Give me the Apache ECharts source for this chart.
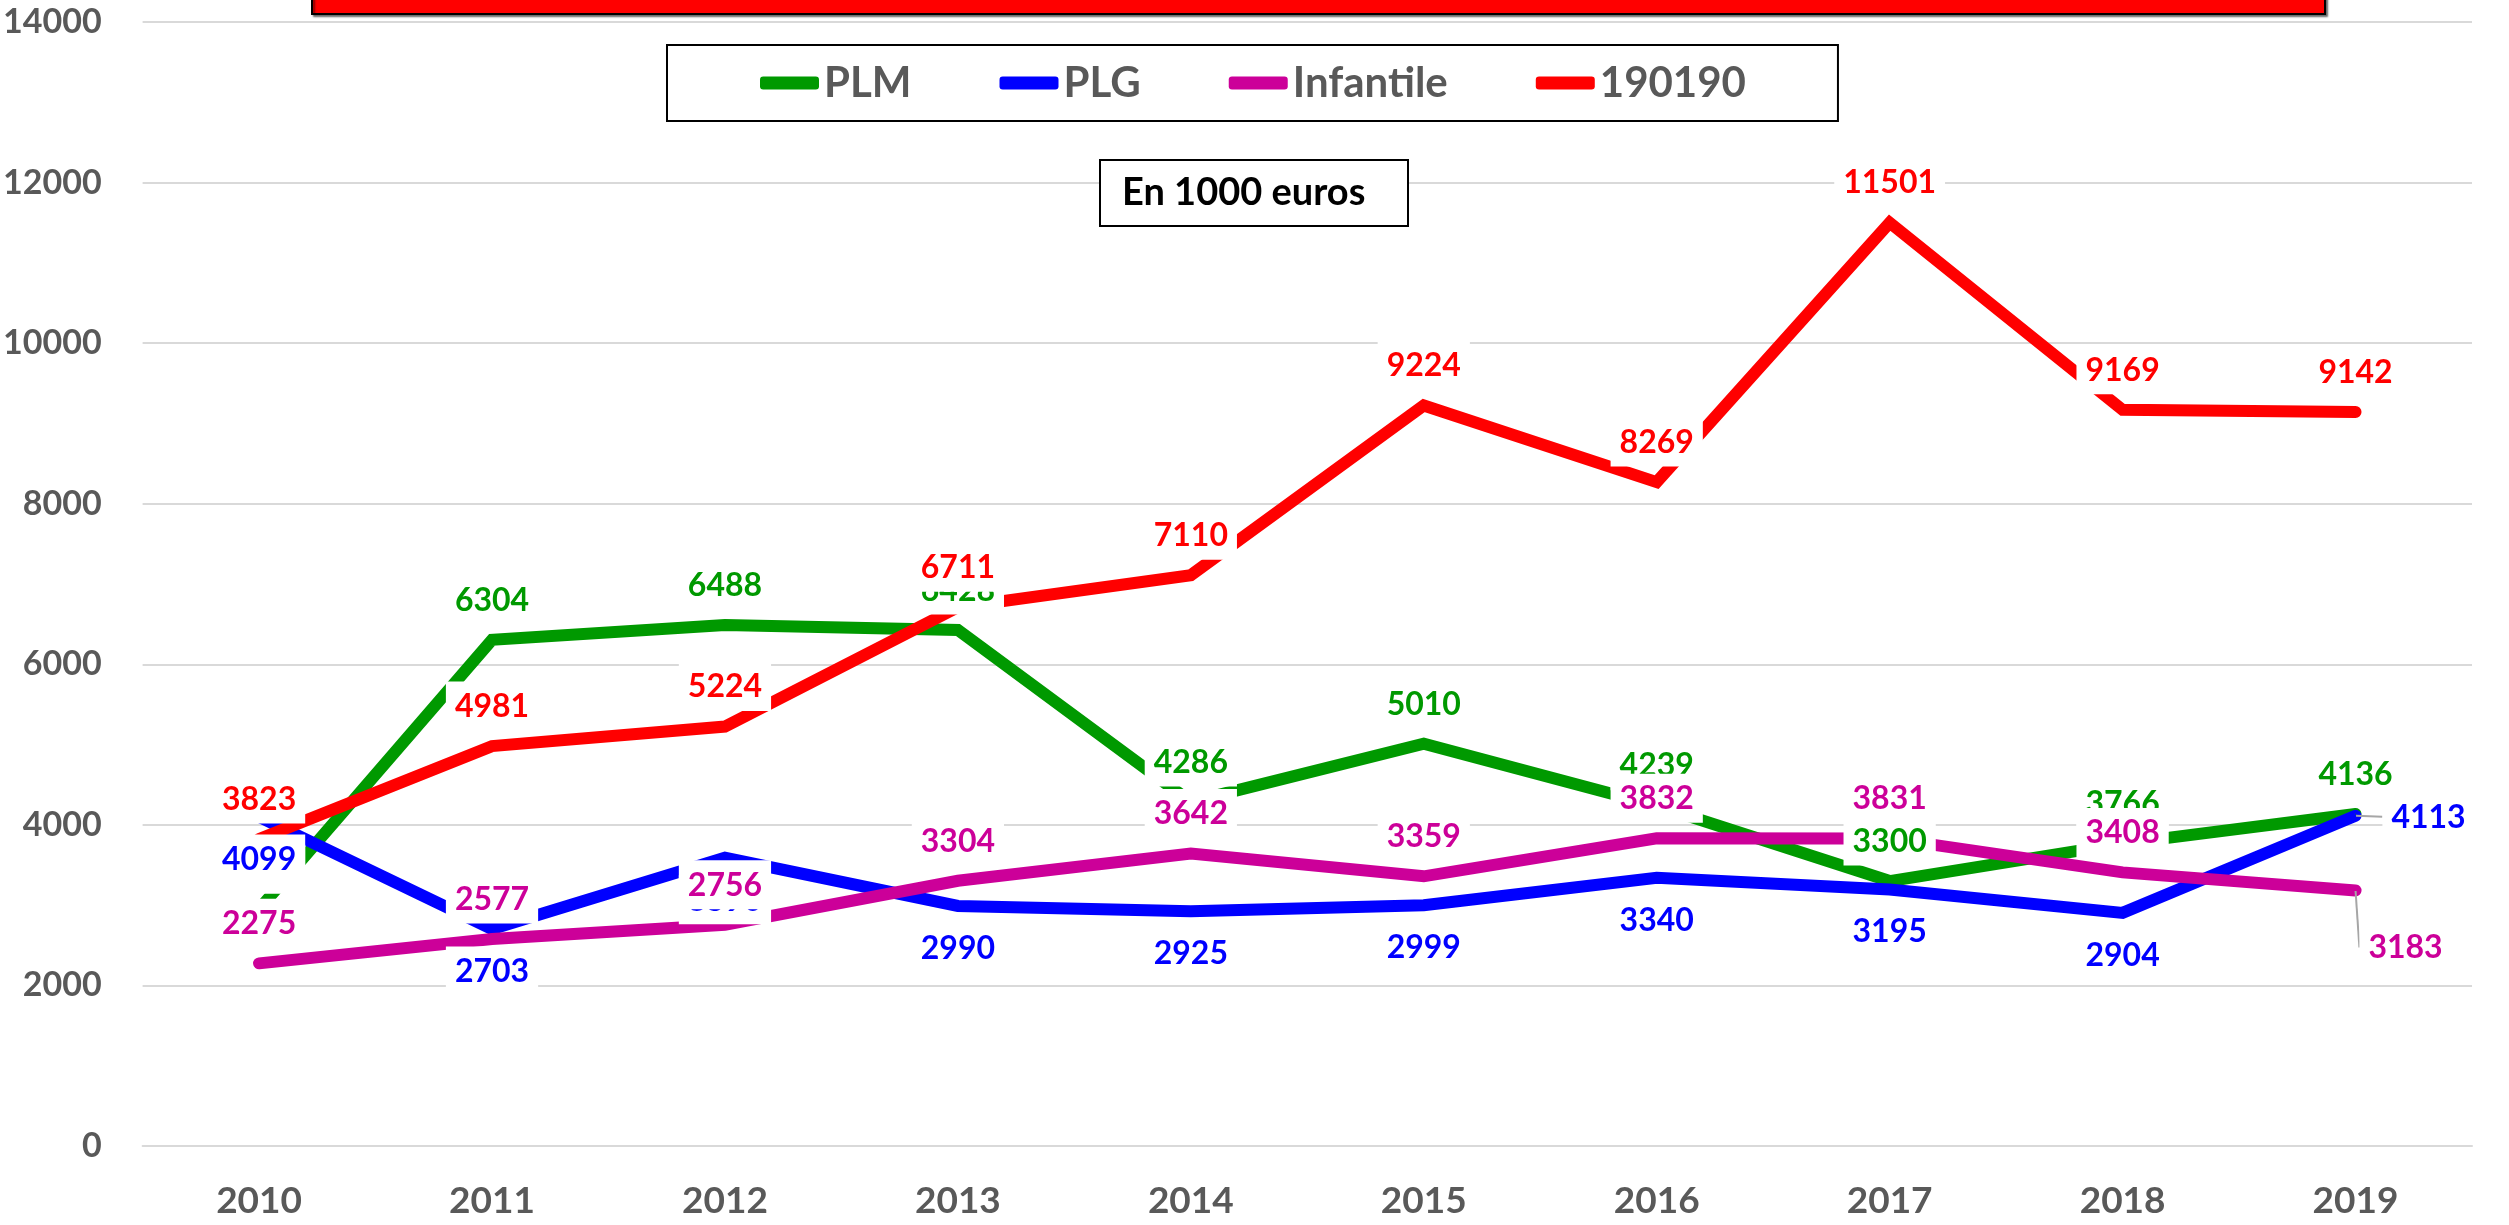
<!DOCTYPE html>
<html>
<head>
<meta charset="utf-8">
<script src="https://cdn.jsdelivr.net/npm/echarts@6/dist/echarts.min.js"></script>
<style>
	html, body { margin: 0; padding: 0; background: #fff; }
	#chartLineBox { width: 2509px; height: 1225px; }
</style>
</head>
<body>
<div id="chartLineBox"></div>
<script>
	// données (en 1000 euros)
	var annees = ['2010', '2011', '2012', '2013', '2014', '2015', '2016', '2017', '2018', '2019'];
	var plm = [2950, 6304, 6488, 6428, 4286, 5010, 4239, 3300, 3766, 4136];
	var plg = [4099, 2703, 3590, 2990, 2925, 2999, 3340, 3195, 2904, 4113];
	var infantile = [2275, 2577, 2756, 3304, 3642, 3359, 3832, 3831, 3408, 3183];
	var s190190 = [3823, 4981, 5224, 6711, 7110, 9224, 8269, 11501, 9169, 9142];
	var noms = ['PLM', 'PLG', 'Infantile', '190190'];
	var couleurs = ['#009900', '#0000ff', '#cc0099', '#ff0000'];

	var police = 'Lato, "Open Sans", sans-serif';
	var chartLine = echarts.init(document.getElementById('chartLineBox'));

	// ligne épaisse
	function serieLigne(i, valeurs) {
		return {
			name: noms[i],
			type: 'line',
			data: valeurs,
			symbol: 'none',
			z: 2,
			lineStyle: { color: couleurs[i], width: 12, cap: 'round', join: 'miter' },
			itemStyle: { color: couleurs[i] },
			emphasis: { disabled: true }
		};
	}

	// étiquettes au-dessus de toutes les lignes
	function serieEtiquettes(i, valeurs, position, decalage) {
		var dernier = valeurs.length - 1;
		return {
			type: 'line',
			data: valeurs.map(function (v, k) {
				return k === dernier && decalage ? { value: v, labelLine: { show: true } } : v;
			}),
			symbol: 'circle',
			symbolSize: 1,
			z: 3,
			lineStyle: { opacity: 0, width: 0 },
			itemStyle: { color: couleurs[i] },
			emphasis: { disabled: true },
			label: {
				show: true,
				position: position,
				distance: position === 'top' ? 15 : 17,
				color: couleurs[i],
				fontFamily: police,
				fontWeight: 'bold',
				fontSize: 32,
				lineHeight: 32,
				backgroundColor: '#ffffff',
				padding: [9, 9, 8, 9]
			},
			labelLine: { show: false, lineStyle: { color: '#a6a6a6', width: 2 } },
			labelLayout: decalage ? function (p) {
				if (p.dataIndex !== dernier) return;
				var r = p.labelRect;
				var cx = p.rect.x + p.rect.width / 2;
				var cy = p.rect.y + p.rect.height / 2;
				var nx = r.x + decalage[0];
				var ny = r.y + decalage[1];
				// trait de rappel vers le milieu du bord le plus proche
				var bout = decalage[1] > 0 ? [nx + r.width / 2 - 10, ny + 6] : [nx + 2, ny + r.height / 2];
				return { dx: decalage[0], dy: decalage[1], labelLinePoints: [[cx, cy], bout] };
			} : null
		};
	}

	var option = {
		animation: false,
		backgroundColor: '#ffffff',
		title: {
			text: 'En 1000 euros',
			left: 1100,
			top: 160,
			padding: [14, 43, 14, 22],
			borderColor: '#000000',
			borderWidth: 2,
			backgroundColor: '#ffffff',
			textStyle: { fontFamily: police, fontWeight: 'bold', fontSize: 38, lineHeight: 38, color: '#000000' }
		},
		legend: {
			data: noms,
			left: 667,
			top: 45,
			padding: [17, 92, 17, 93],
			itemGap: 88,
			itemWidth: 59,
			itemHeight: 13,
			icon: 'roundRect',
			borderColor: '#000000',
			borderWidth: 2,
			backgroundColor: '#ffffff',
			textStyle: { fontFamily: police, fontWeight: 'bold', fontSize: 42, color: '#595959' }
		},
		graphic: [{
			type: 'rect',
			shape: { x: 312, y: -20, width: 2013, height: 34 },
			style: { fill: '#ff0000', stroke: '#000000', lineWidth: 2, shadowColor: 'rgba(0,0,0,0.5)', shadowOffsetX: 2, shadowOffsetY: 2, shadowBlur: 2 },
			z: 10
		}],
		grid: { left: 140, right: 37, top: 22, bottom: 79 },
		xAxis: {
			type: 'category',
			data: annees,
			boundaryGap: true,
			axisTick: { show: false },
			axisLine: { lineStyle: { color: '#d9d9d9', width: 2 } },
			axisLabel: { margin: 37, color: '#595959', fontFamily: police, fontWeight: 'bold', fontSize: 37 }
		},
		yAxis: {
			type: 'value',
			min: 0,
			max: 14000,
			interval: 2000,
			axisLine: { show: false },
			axisTick: { show: false },
			splitLine: { lineStyle: { color: '#d9d9d9', width: 2 } },
			axisLabel: {
				margin: 41, color: '#595959', fontFamily: police, fontWeight: 'bold', fontSize: 34,
				formatter: function (v) { return String(v); }
			}
		},
		series: [
			serieLigne(0, plm),
			serieLigne(1, plg),
			serieLigne(2, infantile),
			serieLigne(3, s190190),
			serieEtiquettes(0, plm, 'top'),
			serieEtiquettes(1, plg, 'bottom', [73, -41]),
			serieEtiquettes(2, infantile, 'top', [50, 97]),
			serieEtiquettes(3, s190190, 'top')
		]
	};
	chartLine.setOption(option);
</script>
</body>
</html>
